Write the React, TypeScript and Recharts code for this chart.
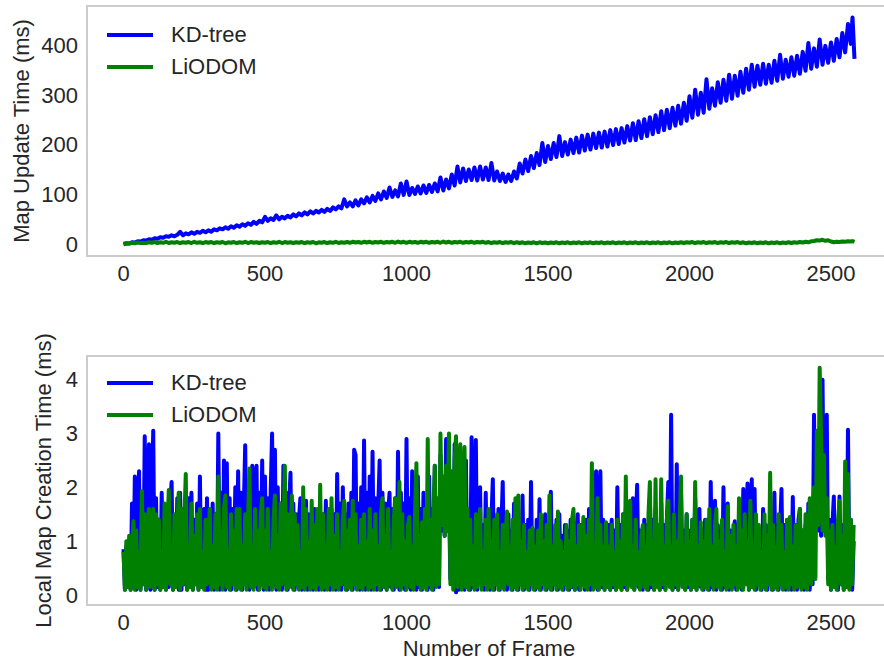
import React from 'react';
import { LineChart, Line, XAxis, YAxis, Legend, ReferenceArea } from 'recharts';

const FONT = '"Liberation Sans", Arial, Helvetica, sans-serif';
const TEXT = '#262626';
const BLUE = '#0000ff';
const GREEN = '#008000';
const BORDER = '#cccccc';
const FS = 22;
const LW = 4;

const xTicks = [0, 500, 1000, 1500, 2000, 2500];
const topYTicks = [0, 100, 200, 300, 400];
const bottomYTicks = [0, 1, 2, 3, 4];

// Top panel: Map Update Time (ms), every 10 frames (+ last frames)
const topFrames = [...Array.from({ length: 258 }, (_, i) => i * 10), 2576, 2583];
const topKdTree = [
  0, 2, 1.5, 4, 3.5, 6, 5.5, 8, 7.5, 10,
  9, 12, 11, 14, 13, 16, 15, 18, 16, 19,
  25, 18, 22, 20, 24, 21, 25, 23, 27, 24,
  28, 25, 30, 28, 32, 30, 34, 31, 36, 33,
  38, 35, 40, 37, 42, 39, 45, 41, 47, 44,
  55, 47, 52, 49, 58, 50, 55, 52, 57, 54,
  60, 56, 62, 58, 64, 60, 66, 62, 67, 64,
  69, 65, 71, 67, 74, 70, 76, 72, 90, 76,
  84, 76, 88, 78, 90, 82, 94, 84, 97, 87,
  102, 90, 106, 93, 114, 95, 108, 96, 122, 99,
  126, 99, 113, 101, 116, 102, 118, 103, 119, 105,
  122, 106, 134, 108, 130, 112, 140, 118, 156, 124,
  152, 127, 150, 129, 154, 128, 156, 130, 154, 129,
  163, 128, 146, 127, 142, 125, 140, 127, 146, 132,
  162, 142, 170, 147, 177, 153, 183, 159, 203, 165,
  197, 171, 203, 175, 217, 177, 205, 180, 210, 183,
  214, 184, 218, 188, 220, 190, 222, 193, 224, 194,
  226, 196, 229, 199, 231, 201, 233, 204, 237, 208,
  243, 209, 247, 213, 251, 217, 255, 221, 259, 225,
  267, 229, 270, 233, 274, 238, 278, 242, 284, 248,
  297, 254, 310, 260, 304, 264, 331, 272, 313, 278,
  325, 284, 330, 288, 340, 292, 338, 298, 346, 304,
  352, 310, 360, 316, 358, 320, 362, 322, 360, 324,
  368, 328, 380, 332, 370, 336, 375, 338, 378, 342,
  386, 348, 404, 352, 393, 356, 411, 360, 398, 364,
  405, 368, 412, 375, 424, 385, 442, 402, 455, 372,
];
const topLiodom = [
  1, 2, 1.5, 3, 2, 3.5, 2.5, 3, 2.5, 4,
  3, 4.5, 2.5, 4, 3, 5, 2.5, 4, 3, 4.5,
  2.5, 4, 3, 4.5, 2.5, 5, 3, 4, 2.5, 4.5,
  3, 4.5, 2.5, 4, 3, 4.5, 2, 4, 3, 4.5,
  2.5, 4, 3, 5, 2.5, 4.5, 3, 4, 2.5, 4,
  3, 4.5, 2.5, 4, 3, 5, 2.5, 4.5, 3, 4,
  2.5, 4, 3, 4.5, 2.5, 4, 3, 4.5, 2, 4,
  3, 4.5, 2.5, 4, 3, 5, 2.5, 4, 3, 4.5,
  3, 5, 3.5, 4.5, 3, 5, 3.5, 5, 3, 4.5,
  3.5, 5, 3, 4.5, 3.5, 5, 3, 5.5, 3.5, 5,
  3, 5, 3.5, 4.5, 3, 5, 3.5, 5, 3, 4.5,
  3.5, 5, 3, 5.5, 3.5, 5, 3, 4.5, 3.5, 5,
  3, 4.5, 3.5, 5, 3, 4.5, 3.5, 5, 3, 4.5,
  2.5, 4, 3, 4.5, 2.5, 4, 3, 4.5, 2.5, 4,
  2.5, 4, 2, 3.5, 2.5, 4, 2, 4, 2.5, 3.5,
  2, 3.5, 2.5, 4, 2, 3.5, 2.5, 4, 2, 3.5,
  2.5, 4, 2, 3.5, 2.5, 4, 2, 3.5, 2.5, 4,
  2, 3.5, 2.5, 4, 2, 3.5, 2.5, 4, 2, 3.5,
  2.5, 4, 2, 3.5, 2.5, 4, 2, 3.5, 2.5, 4,
  2, 3.5, 2.5, 4, 2, 3.5, 2.5, 4, 2.5, 4,
  3, 4.5, 2.5, 4, 3, 4.5, 2.5, 4, 3, 4.5,
  2.5, 4, 3, 4.5, 2.5, 4, 3, 4.5, 2.5, 4,
  2, 3.5, 2.5, 4, 2, 3.5, 2.5, 4, 2, 3.5,
  2.5, 4, 2, 3.5, 2.5, 4, 2.5, 4, 3, 4.5,
  3.5, 5, 4, 6, 6.5, 8, 7.5, 9, 7, 8,
  5.5, 4, 5, 4.5, 5.5, 5, 6, 5.5, 6.5, 5,
];

// Bottom panel: Local Map Creation Time (ms), every 5 frames
const bottomFrames = Array.from({ length: 517 }, (_, i) => i * 5);
const bottomKdTree = [
  0.85, 0.1, 0.9, 0.2, 1.0, 0.1, 1.7, 0.15, 2.2, 0.1, 1.6, 2.3, 0.1, 1.8, 0.2, 2.95, 0.1, 1.9, 2.8, 0.1,
  1.6, 3.05, 0.1, 1.8, 0.15, 1.4, 0.1, 1.9, 0.2, 1.5, 0.1, 1.6, 0.15, 1.7, 2.1, 0.1, 1.4, 0.2, 1.8, 0.1,
  1.9, 0.1, 1.6, 0.2, 1.5, 0.1, 1.8, 0.15, 1.9, 0.1, 1.4, 0.2, 1.7, 0.1, 2.2, 0.15, 1.3, 1.6, 0.1, 1.8,
  0.1, 1.4, 0.2, 1.7, 0.1, 1.5, 0.15, 3.0, 0.1, 1.9, 0.2, 2.5, 0.1, 2.45, 0.15, 1.8, 0.1, 1.6, 0.2, 2.0,
  0.1, 2.3, 0.15, 1.9, 0.1, 1.6, 2.78, 0.2, 2.0, 0.1, 1.6, 2.4, 0.15, 2.1, 2.4, 0.1, 1.9, 0.2, 2.5, 0.1,
  2.2, 0.15, 1.8, 0.1, 1.9, 3.0, 0.2, 2.7, 0.1, 2.0, 0.15, 1.7, 0.1, 2.4, 0.2, 1.9, 0.1, 1.6, 2.27, 0.15,
  1.7, 0.1, 1.5, 0.2, 1.4, 1.8, 0.1, 1.3, 0.15, 1.75, 0.1, 1.5, 0.2, 1.4, 0.1, 1.6, 0.15, 1.5, 0.1, 1.3,
  0.2, 1.5, 0.1, 1.75, 0.15, 1.4, 0.1, 1.6, 0.2, 1.5, 0.1, 2.25, 0.15, 1.7, 0.1, 2.0, 0.2, 1.5, 0.1, 1.7,
  0.15, 1.9, 0.1, 2.7, 2.6, 0.2, 1.7, 0.1, 2.0, 0.15, 2.87, 0.1, 1.9, 0.2, 2.2, 0.1, 2.66, 0.15, 1.8, 0.1,
  1.6, 2.5, 0.1, 1.9, 0.2, 1.7, 0.1, 1.5, 1.9, 0.15, 1.6, 0.1, 1.8, 0.2, 2.66, 0.1, 1.9, 0.15, 1.7, 0.1,
  2.9, 0.15, 1.8, 0.1, 2.3, 0.2, 1.7, 0.1, 2.2, 0.15, 1.6, 0.1, 1.9, 0.2, 1.5, 0.1, 2.2, 0.15, 1.6, 0.1,
  2.4, 0.2, 1.6, 0.15, 2.6, 1.2, 1.6, 1.1, 2.9, 1.2, 1.8, 0.3, 1.5, 0.2, 2.8, 0.05, 1.3, 0.1, 2.6, 0.2,
  1.5, 0.1, 2.5, 0.2, 1.4, 0.1, 2.93, 0.15, 1.6, 2.88, 0.1, 1.4, 2.0, 0.2, 1.3, 0.1, 1.9, 0.15, 1.2, 0.1,
  1.4, 2.15, 0.1, 1.3, 0.2, 1.6, 0.1, 1.2, 2.1, 0.15, 1.4, 0.1, 1.5, 0.2, 1.2, 0.1, 1.7, 0.15, 1.3, 0.1,
  1.2, 0.2, 1.85, 0.1, 1.3, 0.15, 1.4, 0.1, 2.1, 0.2, 1.2, 0.1, 1.4, 0.15, 1.78, 0.1, 1.3, 0.2, 1.5, 0.1,
  1.3, 0.15, 1.92, 0.1, 1.2, 0.2, 1.4, 0.1, 1.5, 0.15, 1.1, 0.1, 1.3, 0.2, 1.2, 0.1, 1.4, 0.15, 1.2, 0.1,
  1.2, 1.5, 0.1, 1.3, 0.2, 1.1, 0.1, 1.4, 0.15, 1.6, 0.1, 1.3, 0.2, 1.4, 2.3, 0.1, 1.5, 2.3, 0.15, 1.4,
  0.1, 1.2, 0.2, 1.3, 0.1, 1.4, 0.15, 1.2, 0.1, 2.0, 0.2, 1.3, 0.1, 1.5, 0.15, 1.6, 0.1, 1.2, 0.2, 1.4,
  1.8, 0.1, 1.3, 2.05, 0.15, 1.2, 1.1, 0.1, 1.4, 0.2, 1.3, 0.1, 1.8, 0.15, 1.4, 0.1, 1.6, 0.2, 1.3, 0.1,
  1.7, 0.15, 1.3, 0.1, 1.4, 2.1, 0.2, 3.35, 0.1, 1.5, 0.15, 2.43, 0.1, 1.3, 1.9, 0.2, 1.2, 0.1, 1.5, 0.15,
  1.2, 0.1, 1.4, 0.2, 1.8, 0.1, 1.3, 1.6, 0.15, 1.2, 0.1, 1.4, 0.2, 1.3, 0.1, 2.1, 0.15, 1.4, 1.75, 0.1,
  1.3, 0.2, 1.2, 0.1, 2.0, 0.15, 1.3, 1.7, 0.1, 1.2, 0.2, 1.1, 1.37, 0.1, 1.3, 0.15, 1.2, 0.1, 1.97, 0.2,
  1.3, 2.07, 0.1, 1.4, 2.15, 0.15, 1.97, 0.1, 1.3, 0.2, 1.2, 0.1, 1.6, 0.15, 1.3, 0.1, 1.2, 0.2, 1.4, 0.1,
  1.9, 0.15, 1.3, 0.1, 1.2, 1.97, 0.2, 1.3, 0.1, 1.4, 0.15, 1.2, 0.1, 1.82, 0.2, 1.3, 0.1, 1.4, 1.6, 0.15,
  1.2, 0.1, 1.3, 0.2, 1.7, 0.1, 1.6, 0.2, 3.35, 1.3, 3.0, 1.2, 2.4, 1.1, 4.0, 1.2, 2.2, 3.35, 0.3, 1.4,
  0.1, 1.3, 1.83, 0.15, 1.2, 0.1, 1.83, 0.2, 1.3, 0.1, 1.6, 0.15, 3.07, 0.2, 1.4, 0.1, 1.0,
];
const bottomLiodom = [
  0.8, 0.1, 1.0, 0.15, 1.1, 0.1, 0.9, 1.37, 0.1, 1.2, 0.15, 0.8, 0.1, 1.93, 0.2, 1.5, 0.1, 1.3, 1.6, 0.15,
  0.9, 1.6, 0.1, 1.5, 0.2, 1.4, 0.1, 0.8, 0.15, 1.7, 0.1, 1.2, 1.95, 0.2, 0.9, 0.1, 1.5, 0.15, 1.2, 1.9,
  0.1, 1.6, 0.2, 1.4, 2.25, 0.1, 0.9, 0.15, 1.7, 0.1, 1.1, 0.2, 1.5, 0.1, 1.6, 0.15, 0.8, 0.1, 1.4, 0.2,
  1.1, 1.6, 0.1, 0.9, 0.15, 1.5, 0.1, 2.2, 0.2, 1.2, 0.1, 1.6, 1.85, 0.15, 0.8, 0.1, 1.5, 0.2, 1.2, 0.1,
  1.6, 0.15, 1.6, 0.1, 0.9, 0.2, 1.5, 0.1, 1.4, 2.35, 0.15, 0.9, 0.1, 1.6, 0.2, 1.2, 0.1, 1.5, 1.8, 0.15,
  1.2, 0.1, 1.6, 0.2, 0.8, 0.1, 1.4, 1.85, 0.15, 1.1, 0.1, 1.7, 0.2, 1.2, 2.4, 0.1, 1.5, 0.15, 0.9, 1.85,
  0.1, 1.5, 0.2, 1.3, 0.1, 0.8, 0.15, 2.0, 0.1, 1.6, 0.2, 1.0, 0.1, 1.75, 0.15, 1.3, 0.1, 1.6, 0.2, 2.05,
  0.1, 1.5, 0.15, 0.9, 0.1, 1.6, 0.2, 1.8, 0.1, 1.1, 0.15, 1.5, 0.1, 0.8, 0.2, 1.4, 1.75, 0.1, 1.2, 0.15,
  1.4, 0.1, 1.75, 0.2, 1.5, 0.1, 0.9, 0.15, 1.4, 0.1, 1.5, 0.2, 1.0, 0.1, 1.6, 0.15, 1.2, 0.1, 1.5, 0.2,
  0.9, 0.1, 1.5, 1.8, 0.15, 1.1, 0.1, 1.6, 0.2, 0.8, 0.1, 1.4, 1.8, 0.15, 1.2, 2.1, 0.1, 1.5, 0.2, 1.0,
  0.1, 1.3, 1.45, 0.15, 0.9, 0.1, 1.5, 2.45, 0.2, 1.1, 0.1, 1.35, 0.15, 1.6, 0.1, 2.9, 0.2, 1.4, 0.1, 1.6,
  2.4, 0.15, 1.8, 0.2, 3.0, 1.3, 2.2, 1.1, 2.4, 1.2, 3.0, 0.2, 2.3, 0.1, 2.5, 2.95, 0.15, 2.2, 2.8, 0.1,
  1.9, 2.75, 0.15, 1.6, 0.1, 1.4, 0.2, 0.9, 0.1, 1.5, 0.15, 1.1, 1.6, 0.1, 0.8, 0.2, 1.4, 0.1, 1.6, 0.15,
  1.0, 0.1, 1.4, 0.2, 1.5, 0.1, 0.8, 0.15, 1.3, 0.1, 1.1, 1.55, 0.2, 0.9, 0.1, 1.4, 0.15, 1.8, 0.1, 1.85,
  0.2, 1.0, 0.1, 1.3, 0.15, 0.8, 0.1, 1.2, 0.2, 1.25, 0.1, 0.9, 0.15, 1.2, 0.1, 1.5, 0.2, 1.0, 0.1, 1.3,
  0.15, 1.85, 0.1, 0.9, 0.2, 1.3, 0.1, 1.55, 0.15, 1.0, 0.1, 0.8, 0.2, 1.3, 0.1, 1.0, 0.15, 1.4, 1.6, 0.1,
  0.9, 0.2, 1.3, 0.1, 0.8, 1.45, 0.15, 1.1, 0.1, 1.4, 0.2, 2.45, 0.1, 0.9, 0.15, 1.8, 0.1, 1.3, 0.2, 0.9,
  0.1, 1.35, 0.15, 0.9, 0.1, 1.3, 0.2, 0.8, 0.1, 1.4, 0.15, 1.0, 0.1, 1.5, 0.2, 2.2, 0.1, 1.1, 1.75, 0.15,
  0.9, 0.1, 1.4, 0.2, 0.8, 0.1, 1.1, 1.3, 0.15, 0.9, 0.1, 1.5, 2.1, 0.2, 1.0, 0.1, 2.15, 0.15, 1.3, 0.1,
  2.15, 0.2, 0.9, 0.1, 1.4, 1.75, 0.15, 0.9, 0.1, 1.5, 0.2, 1.0, 0.1, 1.3, 2.2, 0.15, 0.9, 0.1, 1.5, 0.2,
  1.0, 0.1, 1.4, 0.15, 2.1, 0.1, 0.9, 0.2, 1.35, 0.1, 1.0, 0.15, 1.4, 0.1, 1.6, 0.2, 0.9, 0.1, 1.3, 1.6,
  0.15, 1.0, 0.1, 1.4, 0.2, 0.8, 0.1, 1.65, 0.15, 1.1, 0.1, 1.3, 0.2, 0.9, 0.1, 1.8, 0.15, 1.2, 0.1, 1.5,
  0.2, 1.0, 0.1, 1.75, 0.15, 0.9, 0.1, 1.5, 0.2, 1.3, 0.1, 0.8, 0.15, 1.5, 0.1, 1.1, 0.2, 2.27, 0.1, 1.3,
  0.15, 0.9, 0.1, 1.5, 0.2, 1.3, 0.1, 0.8, 0.15, 1.4, 0.1, 1.45, 0.2, 0.9, 0.1, 1.3, 0.15, 1.0, 1.6, 0.1,
  1.2, 0.15, 1.5, 0.1, 0.9, 1.8, 0.2, 1.4, 2.0, 0.3, 3.05, 1.3, 4.22, 2.95, 1.2, 2.6, 1.1, 1.8, 0.2, 1.2,
  0.1, 1.3, 0.15, 0.9, 0.1, 1.4, 1.75, 0.2, 1.1, 0.1, 2.48, 0.15, 2.25, 0.1, 1.4, 0.2, 1.3,
];

const topData = topFrames.map((frame, i) => ({ frame, kd: topKdTree[i], li: topLiodom[i] }));
const bottomData = bottomFrames.map((frame, i) => ({ frame, kd: bottomKdTree[i], li: bottomLiodom[i] }));

const X_DOMAIN: [number, number] = [-129, 2712];
const TOP_Y_DOMAIN: [number, number] = [-23.5, 478];
const BOTTOM_Y_DOMAIN: [number, number] = [-0.185, 4.44];

const tickStyle = { fontSize: FS, fill: TEXT, fontFamily: FONT };

const LegendBox = (props: any) => {
  const payload = props.payload || [];
  return (
    <div style={{ fontFamily: FONT }}>
      {payload.map((entry: any) => (
        <div key={entry.value} style={{ display: 'flex', alignItems: 'center', height: 32 }}>
          <svg width={46} height={8} style={{ display: 'block' }}>
            <line x1={0} x2={46} y1={4} y2={4} stroke={entry.color} strokeWidth={LW} />
          </svg>
          <span style={{ marginLeft: 18, fontSize: FS, color: TEXT, lineHeight: '32px', whiteSpace: 'nowrap' }}>
            {entry.value}
          </span>
        </div>
      ))}
    </div>
  );
};

const makeYLabel = (text: string, baselineX: number) => (props: any) => {
  const vb = props.viewBox || { y: 0, height: 0 };
  const y = vb.y + vb.height / 2;
  return (
    <text
      x={baselineX}
      y={y}
      transform={`rotate(-90, ${baselineX}, ${y})`}
      textAnchor="middle"
      fontSize={FS}
      fill={TEXT}
      fontFamily={FONT}
    >
      {text}
    </text>
  );
};

const makeXLabel = (text: string, dyBaseline: number) => (props: any) => {
  const vb = props.viewBox || { x: 0, y: 0, width: 0 };
  return (
    <text x={vb.x + vb.width / 2} y={vb.y + dyBaseline} textAnchor="middle" fontSize={FS} fill={TEXT} fontFamily={FONT}>
      {text}
    </text>
  );
};

const seriesLines = () => [
  <Line
    key="kd"
    type="linear"
    dataKey="kd"
    name="KD-tree"
    stroke={BLUE}
    strokeWidth={LW}
    strokeLinejoin="round"
    dot={false}
    activeDot={false}
    isAnimationActive={false}
  />,
  <Line
    key="li"
    type="linear"
    dataKey="li"
    name="LiODOM"
    stroke={GREEN}
    strokeWidth={LW}
    strokeLinejoin="round"
    dot={false}
    activeDot={false}
    isAnimationActive={false}
  />,
];

export default function App() {
  return (
    <div
      style={{
        position: 'absolute',
        left: 0,
        top: 0,
        width: 884,
        height: 662,
        overflow: 'hidden',
        background: '#ffffff',
        fontFamily: FONT,
      }}
    >
      <div style={{ position: 'absolute', left: 0, top: 0 }}>
        <LineChart width={900} height={300} data={topData} margin={{ top: 6, right: 9, left: 0, bottom: 0 }}>
          <XAxis
            dataKey="frame"
            type="number"
            domain={X_DOMAIN}
            ticks={xTicks}
            allowDataOverflow
            tickLine={false}
            axisLine={false}
            tickSize={0}
            tickMargin={9}
            height={44}
            tick={tickStyle}
          />
          <YAxis
            type="number"
            domain={TOP_Y_DOMAIN}
            ticks={topYTicks}
            allowDataOverflow
            tickLine={false}
            axisLine={false}
            tickSize={0}
            tickMargin={9}
            width={87}
            tick={tickStyle}
            label={makeYLabel('Map Update Time (ms)', 29)}
          />
          {seriesLines()}
          <ReferenceArea
            x1={X_DOMAIN[0]}
            x2={X_DOMAIN[1]}
            y1={TOP_Y_DOMAIN[0]}
            y2={TOP_Y_DOMAIN[1]}
            fill="none"
            fillOpacity={0}
            stroke={BORDER}
            strokeWidth={2}
            ifOverflow="visible"
          />
          <Legend
            layout="vertical"
            align="center"
            verticalAlign="middle"
            wrapperStyle={{ left: 107, top: 19, width: 'auto', height: 'auto' }}
            content={(p: any) => <LegendBox {...p} />}
          />
        </LineChart>
      </div>
      <div style={{ position: 'absolute', left: 0, top: 300 }}>
        <LineChart width={900} height={362} data={bottomData} margin={{ top: 56, right: 9, left: 0, bottom: 0 }}>
          <XAxis
            dataKey="frame"
            type="number"
            domain={X_DOMAIN}
            ticks={xTicks}
            allowDataOverflow
            tickLine={false}
            axisLine={false}
            tickSize={0}
            tickMargin={9}
            height={57}
            tick={tickStyle}
            label={makeXLabel('Number of Frame', 51)}
          />
          <YAxis
            type="number"
            domain={BOTTOM_Y_DOMAIN}
            ticks={bottomYTicks}
            allowDataOverflow
            tickLine={false}
            axisLine={false}
            tickSize={0}
            tickMargin={9}
            width={87}
            tick={tickStyle}
            label={makeYLabel('Local Map Creation Time (ms)', 51)}
          />
          {seriesLines()}
          <ReferenceArea
            x1={X_DOMAIN[0]}
            x2={X_DOMAIN[1]}
            y1={BOTTOM_Y_DOMAIN[0]}
            y2={BOTTOM_Y_DOMAIN[1]}
            fill="none"
            fillOpacity={0}
            stroke={BORDER}
            strokeWidth={2}
            ifOverflow="visible"
          />
          <Legend
            layout="vertical"
            align="center"
            verticalAlign="middle"
            wrapperStyle={{ left: 107, top: 67, width: 'auto', height: 'auto' }}
            content={(p: any) => <LegendBox {...p} />}
          />
        </LineChart>
      </div>
    </div>
  );
}
